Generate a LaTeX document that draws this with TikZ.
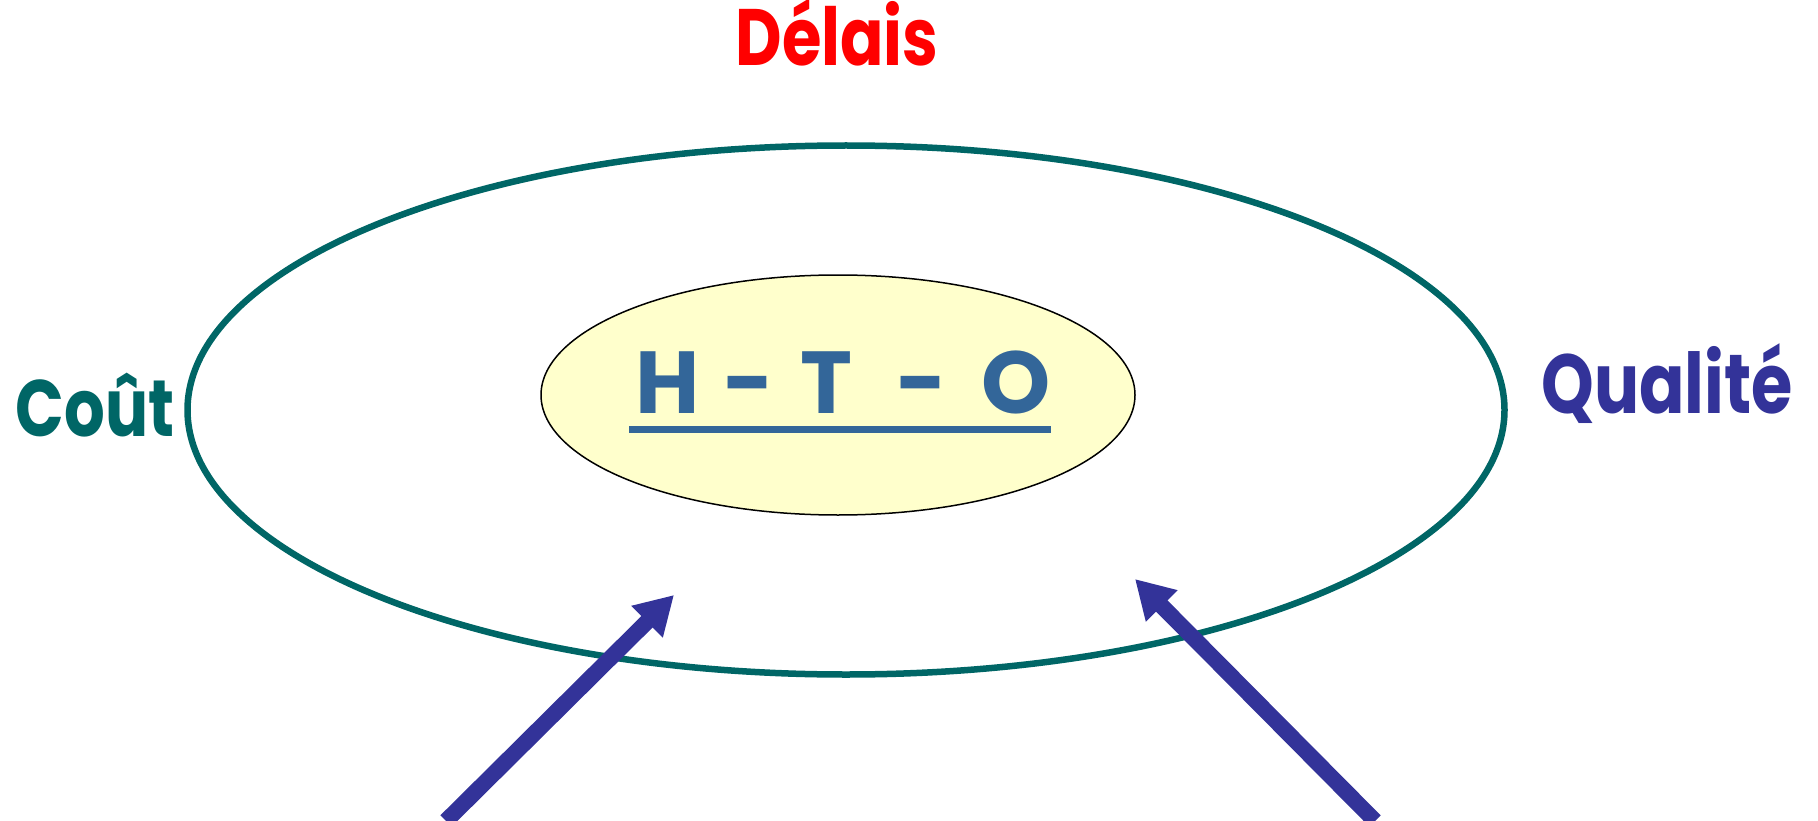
\documentclass[tikz,border=0pt]{standalone}
\usepackage{fontspec}
\setmainfont{Poppins}
\usetikzlibrary{shapes.geometric,arrows.meta}
\definecolor{tealc}{HTML}{006666}
\definecolor{bluec}{HTML}{333399}
\definecolor{htoc}{HTML}{336699}
\definecolor{yelc}{HTML}{FFFFCC}
\definecolor{redc}{HTML}{FF0000}
\newcommand{\tallt}[1]{\scalebox{1}[1.25]{#1}}
\tikzset{
  label text/.style={font=\fontsize{64}{70}\selectfont\bfseries, inner sep=0pt, anchor=base},
  bigarrow/.style={draw=bluec, line width=16pt, -{Triangle[length=38pt,width=42pt]}},
}
\begin{document}
\begin{tikzpicture}[x=1pt,y=-1pt]
\useasboundingbox (0,0) rectangle (1818,821);
\node[draw=tealc, line width=6.5pt, ellipse, minimum width=1317pt, minimum height=529pt, inner sep=0pt] (outer) at (846,410) {};
\node[draw=black, line width=1.5pt, fill=yelc, ellipse, minimum width=594pt, minimum height=240pt, inner sep=0pt] (inner) at (838,395) {};
\node[font=\fontsize{88}{96}\selectfont\bfseries, text=htoc, inner sep=0pt, anchor=base] (hto) at (843,413) {H\hspace{24pt}-\hspace{26pt}T\hspace{44pt}-\hspace{34pt}O};
\draw[htoc, line width=7pt] ([xshift=-6pt,yshift=-16pt]hto.base west) -- ([yshift=-16pt]hto.base east);
\node[label text, text=redc] (delais) at (837,66) {\tallt{Délais}};
\node[label text, text=tealc] (cout) at (95,436) {\tallt{Coût}};
\node[label text, text=bluec, font=\fontsize{67}{72}\selectfont\bfseries] (qualite) at (1667,413) {\tallt{Qualité}};
\coordinate (a1s) at (446,821);
\coordinate (a1e) at (674,595);
\coordinate (a2s) at (1375,821);
\coordinate (a2e) at (1135,579);
\draw[bigarrow] (a1s) -- (a1e);
\draw[bigarrow] (a2s) -- (a2e);
\end{tikzpicture}
\end{document}
